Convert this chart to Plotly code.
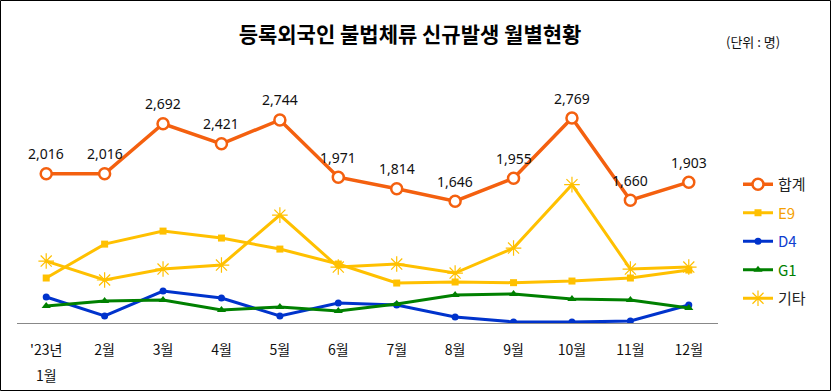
import plotly.graph_objects as go

months = ["'23년", "2월", "3월", "4월", "5월", "6월", "7월", "8월", "9월", "10월", "11월", "12월"]
first_month_second_line = "1월"
total = [2016, 2016, 2692, 2421, 2744, 1971, 1814, 1646, 1955, 2769, 1660, 1903]
e9 = [608, 1066, 1242, 1148, 999, 797, 540, 554, 545, 567, 608, 716]
d4 = [351, 95, 432, 338, 95, 270, 243, 81, 15, 12, 27, 243]
g1 = [230, 297, 310, 176, 216, 162, 256, 378, 392, 324, 310, 203]
etc = [837, 581, 729, 783, 1458, 756, 797, 675, 1013, 1870, 729, 756]

W, H = 831, 391
L, R, T, B = 17, 718, 101, 323  # plot area in px
pw, ph = R - L, B - T

def px(x):
    return (x - L) / pw

def py(y):
    return (B - y) / ph

CJK = "Noto Sans CJK KR"
fig = go.Figure()

fig.add_trace(go.Scatter(x=months, y=total, name="합계", mode="lines+markers",
    line=dict(color="#F4600F", width=3.5),
    marker=dict(symbol="circle", size=11, color="white", line=dict(color="#F4600F", width=2.5)),
    legendgroup="a"))
fig.add_trace(go.Scatter(x=months, y=e9, name="<span style='color:#F5A000'>E9</span>", mode="lines+markers",
    line=dict(color="#FFC000", width=3),
    marker=dict(symbol="square", size=7, color="#FFC000"), legendgroup="b"))
fig.add_trace(go.Scatter(x=months, y=d4, name="<span style='color:#1040D0'>D4</span>", mode="lines+markers",
    line=dict(color="#0033CC", width=3),
    marker=dict(symbol="circle", size=7, color="#0033CC"), legendgroup="c"))
fig.add_trace(go.Scatter(x=months, y=g1, name="<span style='color:#008000'>G1</span>", mode="lines+markers",
    line=dict(color="#008000", width=3),
    marker=dict(symbol="triangle-up", size=8, color="#008000"), legendgroup="d"))
fig.add_trace(go.Scatter(x=months, y=etc, name="기타", mode="lines+markers",
    line=dict(color="#FFC000", width=3),
    marker=dict(symbol="asterisk-open", size=13, color="#FFC000", line=dict(color="#FFC000", width=1.2)),
    legendgroup="e"))

for m, v in zip(months, total):
    fig.add_annotation(x=m, y=v, text=f"{v:,}", showarrow=False, yshift=20,
                       font=dict(family="Noto Sans", size=14, color="#111"))

fig.add_annotation(x=months[0], yref="paper", y=0, text=first_month_second_line, showarrow=False,
                   yshift=-52, yanchor="middle", font=dict(family=CJK, size=14, color="#111"))

fig.add_annotation(xref="paper", yref="paper", x=px(753), y=py(41), text="(단위 : 명)",
                   xanchor="center", yanchor="middle",
                   showarrow=False, font=dict(family=CJK, size=13, color="#111"))

fig.add_shape(type="rect", xref="paper", yref="paper",
              x0=px(0.5), x1=px(830.5), y0=py(390.5), y1=py(0.5),
              line=dict(color="black", width=1))

fig.update_layout(
    width=W, height=H,
    margin=dict(l=L, r=W - R, t=T, b=H - B, pad=0),
    paper_bgcolor="white", plot_bgcolor="white",
    title=dict(text="<b>등록외국인 불법체류 신규발생 월별현황</b>", x=410 / W, y=1 - 35 / H,
               xanchor="center", yanchor="middle", xref="container", yref="container",
               font=dict(family=CJK, size=21, color="black")),
    legend=dict(x=px(738), y=py(168), xanchor="left", yanchor="top",
                font=dict(family=CJK, size=15, color="#222"),
                tracegroupgap=6, bgcolor="rgba(0,0,0,0)"),
    showlegend=True,
)
fig.update_xaxes(range=[-0.5, 11.5], showgrid=False, showline=True, linecolor="#888", linewidth=1,
                 ticks="", tickfont=dict(family=CJK, size=14, color="#111"), ticklabelstandoff=14)
fig.update_yaxes(range=[0, 3000], visible=False, showgrid=False)

fig.write_html("out.html", config={"displayModeBar": False},
               post_script="document.body.style.margin='0';")
